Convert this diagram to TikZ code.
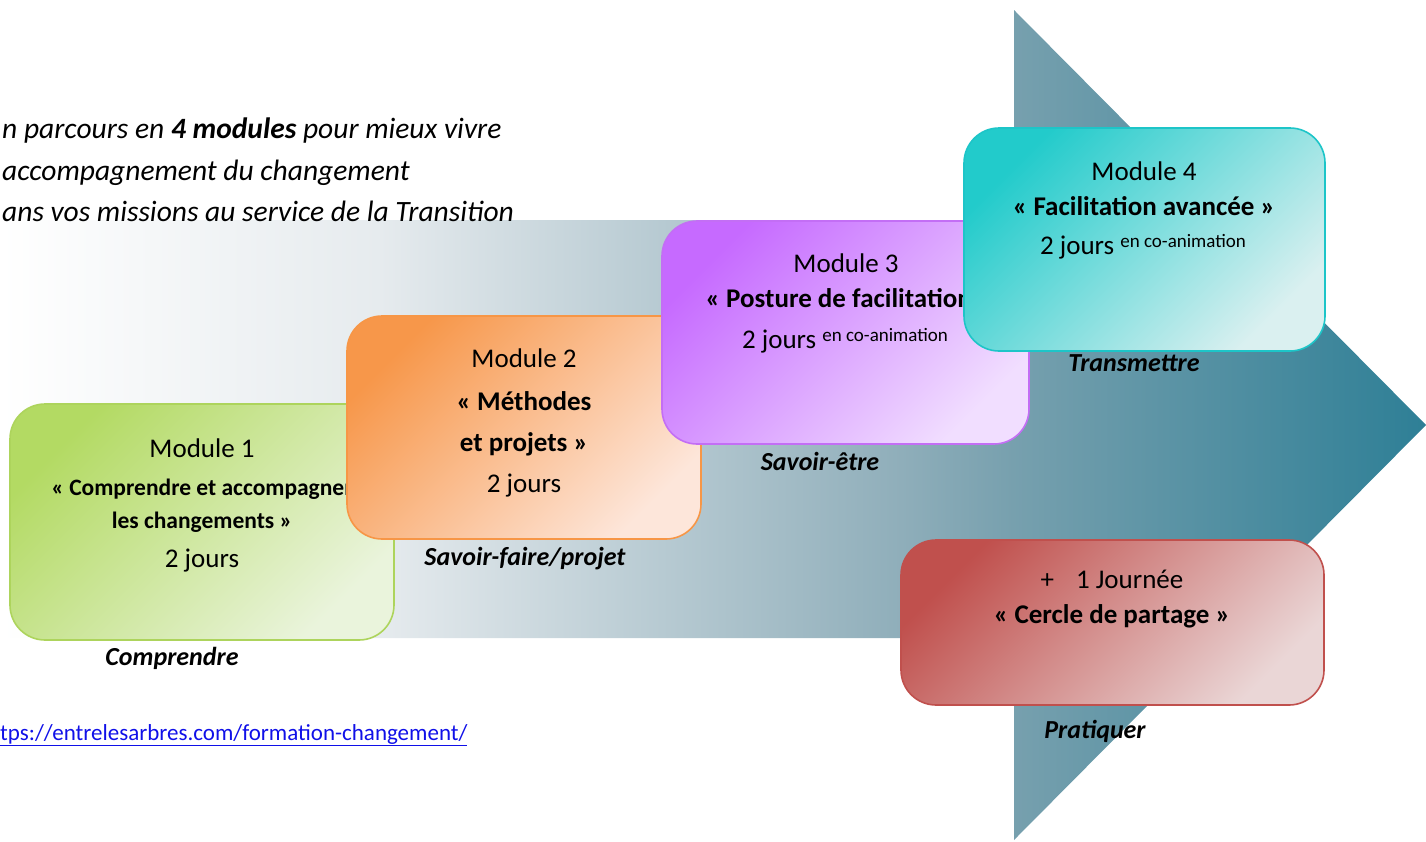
\documentclass[tikz,border=0pt]{standalone}
\usepackage{fontspec}
\setmainfont{Carlito}
\definecolor{gA}{HTML}{B3DA63}\definecolor{gB}{HTML}{EAF4DC}\definecolor{gD}{HTML}{ADD45C}
\definecolor{oA}{HTML}{F7974A}\definecolor{oB}{HTML}{FDE6DA}\definecolor{oD}{HTML}{F79646}
\definecolor{pA}{HTML}{C66AFF}\definecolor{pB}{HTML}{F1DEFF}\definecolor{pD}{HTML}{C36EF5}
\definecolor{tA}{HTML}{22CBCB}\definecolor{tB}{HTML}{DAF0F0}\definecolor{tD}{HTML}{1DC5C8}
\definecolor{rA}{HTML}{C0504D}\definecolor{rB}{HTML}{EAD6D6}\definecolor{rD}{HTML}{C0504D}
\definecolor{urlblue}{HTML}{1010E8}
\definecolor{sh1}{HTML}{E6EBEE}
\definecolor{sh2}{HTML}{8FAEBA}
\definecolor{sh3}{HTML}{77A0AE}
\definecolor{sh4}{HTML}{2E7F96}
\pgfdeclarehorizontalshading{arrowshade}{100bp}{%
  color(0bp)=(white); color(25bp)=(white); color(38.3bp)=(sh1);
  color(56.6bp)=(sh2); color(60.5bp)=(sh3);
  color(75bp)=(sh4); color(100bp)=(sh4)}
\tikzset{
  box/.style={draw, line width=1.6pt, rounded corners=35pt, inner sep=0pt},
  txt/.style={anchor=base, inner sep=0pt, font=\fontsize{27}{32}\selectfont},
  bld/.style={anchor=base, inner sep=0pt, font=\fontsize{27}{32}\selectfont\bfseries},
  bldsmall/.style={anchor=base, inner sep=0pt, font=\fontsize{23.5}{28}\selectfont\bfseries},
  lab/.style={anchor=base, inner sep=0pt, font=\fontsize{26}{30}\selectfont\bfseries\itshape},
  intro/.style={anchor=base west, inner sep=0pt, font=\fontsize{29.5}{34}\selectfont\itshape}
}
\newcommand{\coanim}{\raisebox{7pt}{\fontsize{19}{20}\selectfont en co-animation}}
\begin{document}
\begin{tikzpicture}[x=1pt,y=-1pt]
\useasboundingbox (0,0) rectangle (1426,841);
% big arrow
\shade[shading=arrowshade] (0,220) -- (1014,220) -- (1014,10) -- (1426,425) -- (1014,840) -- (1014,638) -- (0,638) -- cycle;
% intro
\node[intro] (i1) at (2,138) {n parcours en \textbf{4 modules} pour mieux vivre};
\node[intro] (i2) at (2,180) {accompagnement du changement};
\node[intro] (i3) at (2,221) {ans vos missions au service de la Transition};
% Module 1
\node[box, draw=gD, top color=gA, bottom color=gB, shading angle=45, minimum width=384pt, minimum height=236pt] (m1) at (202,522) {};
\node[txt] (m1a) at (202,457) {Module 1};
\node[bldsmall] (m1b) at (202,495) {« Comprendre et accompagner};
\node[bldsmall] (m1c) at (202,528) {les changements »};
\node[txt] (m1d) at (202,567) {2 jours};
\node[lab] (l1) at (172,665) {Comprendre};
% Module 2
\node[box, draw=oD, top color=oA, bottom color=oB, shading angle=45, minimum width=354pt, minimum height=223pt] (m2) at (524,427.5) {};
\node[txt] (m2a) at (524,367) {Module 2};
\node[bld] (m2b) at (524,410) {« Méthodes};
\node[bld] (m2c) at (524,451) {et projets »};
\node[txt] (m2d) at (524,492) {2 jours};
\node[lab] (l2) at (525,565) {Savoir-faire/projet};
% Module 3
\node[box, draw=pD, top color=pA, bottom color=pB, shading angle=45, minimum width=367pt, minimum height=223pt] (m3) at (845.5,332.5) {};
\node[txt] (m3a) at (846,272) {Module 3};
\node[bld] (m3b) at (849,307) {« Posture de facilitation »};
\node[txt] (m3c) at (845,348) {2 jours \coanim};
\node[lab] (l3) at (820,470) {Savoir-être};
% Module 4
\node[box, draw=tD, top color=tA, bottom color=tB, shading angle=45, minimum width=361pt, minimum height=223pt] (m4) at (1144.5,239.5) {};
\node[txt] (m4a) at (1144,180) {Module 4};
\node[bld] (m4b) at (1144,215) {« Facilitation avancée »};
\node[txt] (m4c) at (1143,254) {2 jours \coanim};
\node[lab] (l4) at (1134,371) {Transmettre};
% Cercle
\node[box, draw=rD, top color=rA, bottom color=rB, shading angle=45, minimum width=423pt, minimum height=165pt] (m5) at (1112.5,622.5) {};
\node[txt] (m5a) at (1112,588) {+\hspace{22pt}1 Journée};
\node[bld] (m5b) at (1112,623) {« Cercle de partage »};
\node[lab] (l5) at (1095,738) {Pratiquer};
% url
\node[anchor=base west, inner sep=0pt, text=urlblue, font=\fontsize{23}{26}\selectfont] (url) at (0,740) {\underline{tps://entrelesarbres.com/formation-changement/}};
\end{tikzpicture}
\end{document}
